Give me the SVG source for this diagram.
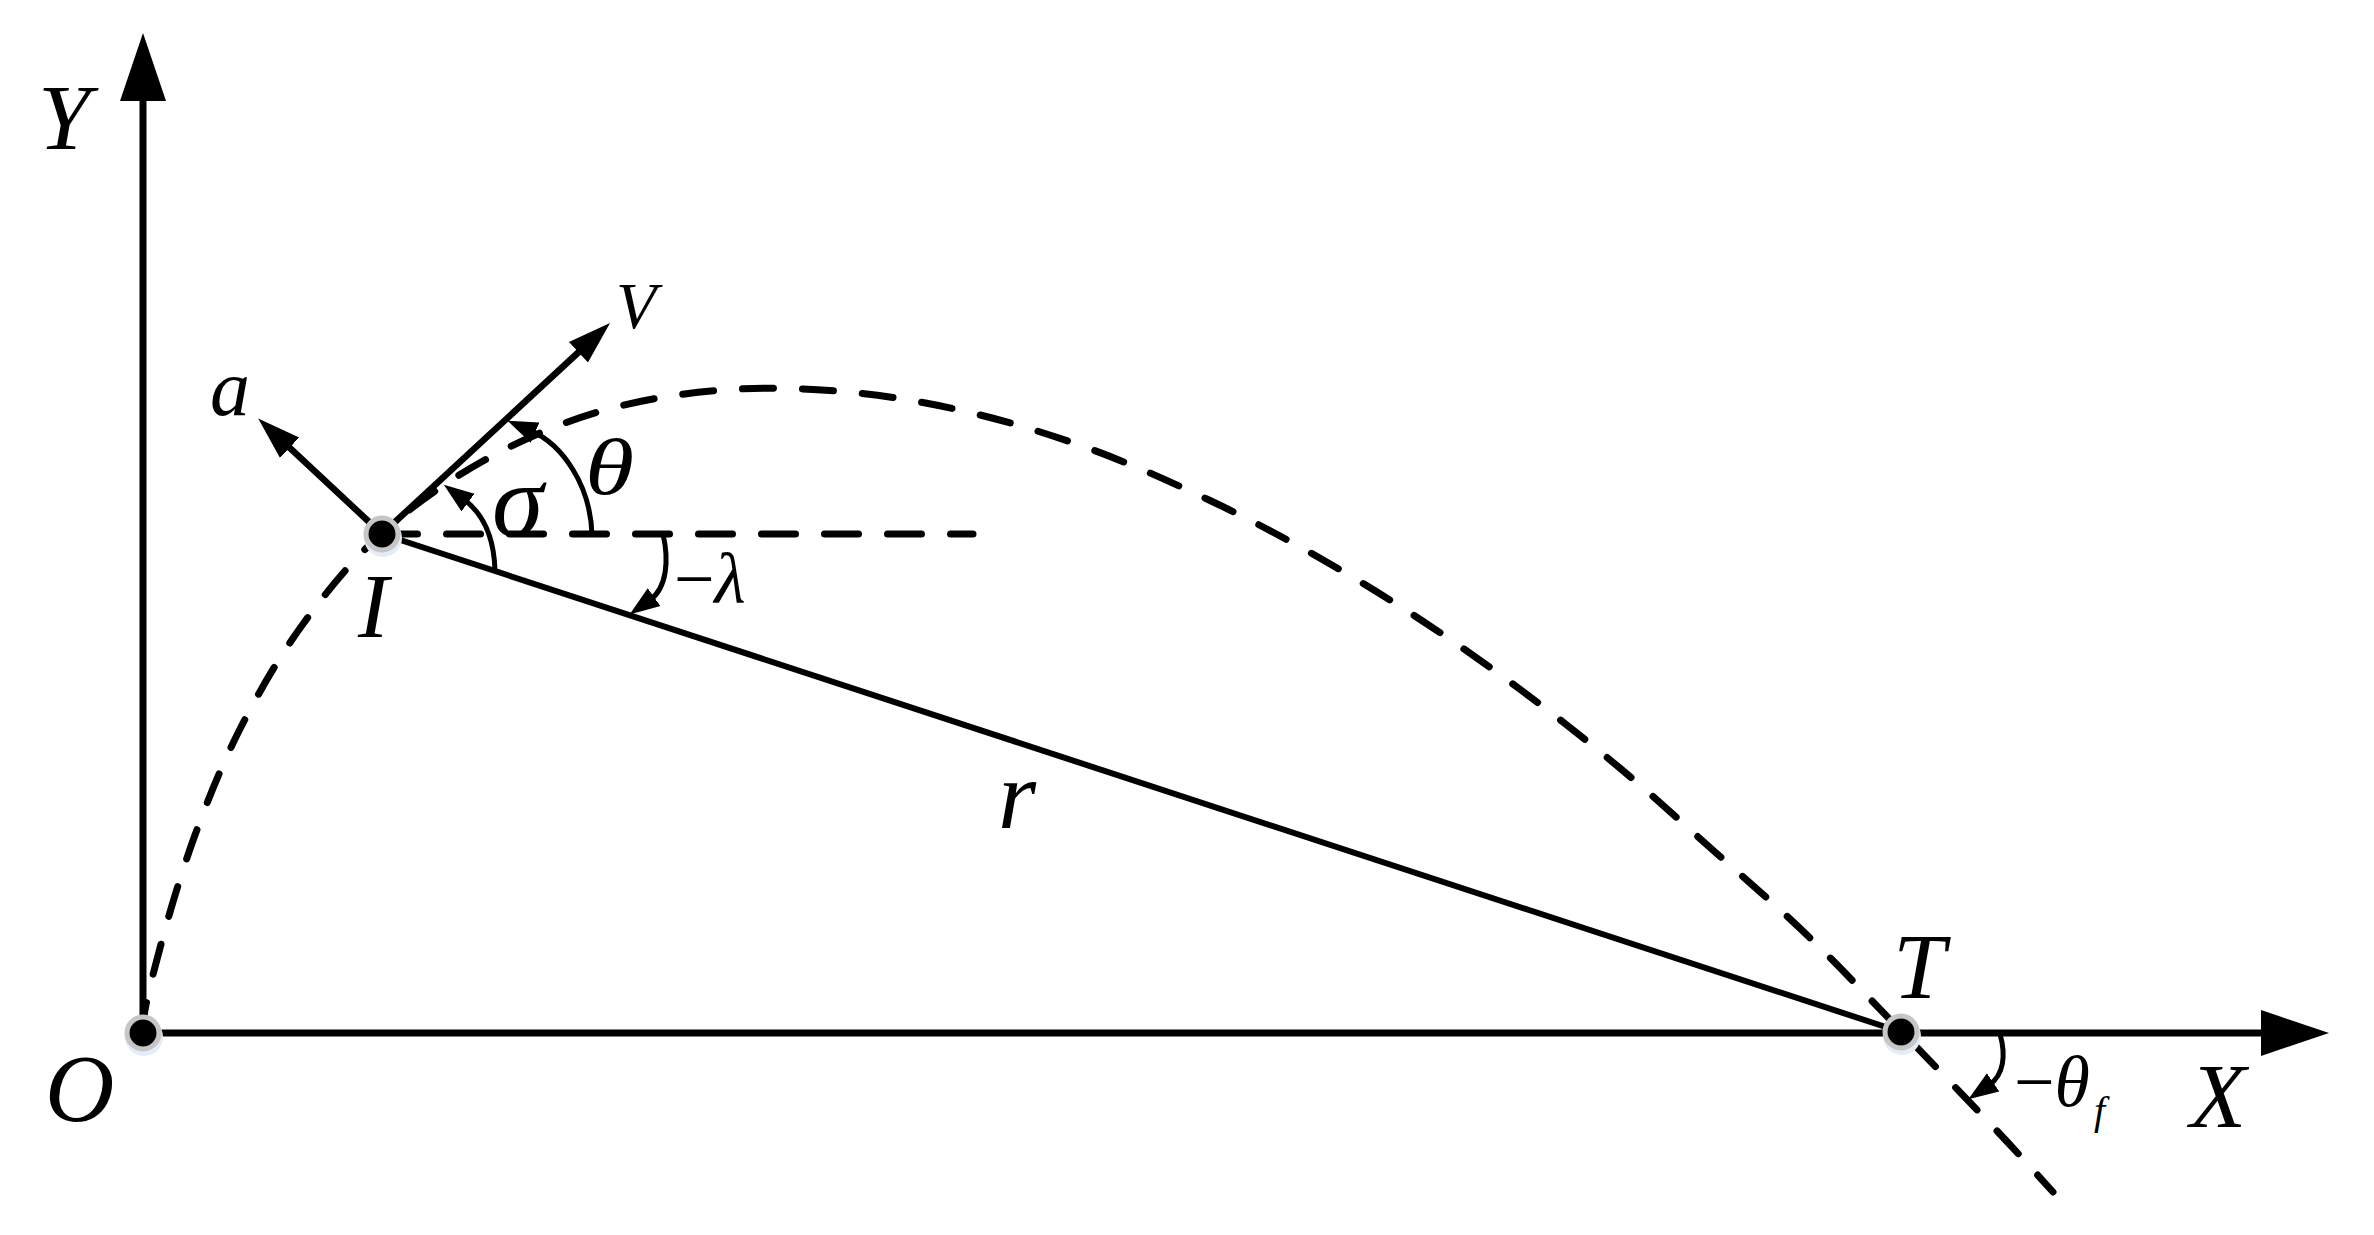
<svg xmlns="http://www.w3.org/2000/svg" width="2374" height="1235" viewBox="0 0 2374 1235">
<style>
.ax{stroke:#000;stroke-width:7;fill:none}
.sol{stroke:#000;stroke-width:6;fill:none}
.vec{stroke:#000;stroke-width:6.5;fill:none}
.arc{stroke:#000;stroke-width:5;fill:none}
.dash{stroke:#000;stroke-width:7;fill:none;stroke-linecap:round}
.lbl{font-family:"Liberation Serif","Times New Roman",serif;font-style:italic;fill:#000}
.up{font-family:"Liberation Serif","Times New Roman",serif;font-style:normal;fill:#000}
.ring{fill:none;stroke:#c6c6c6;stroke-width:5}
.glow{fill:#e3ecf7}
</style>
<defs>
<marker id="axisHead" markerUnits="userSpaceOnUse" viewBox="0 -24 70 48" markerWidth="70" markerHeight="48" refX="2" refY="0" orient="auto"><path d="M0,-23 L68,0 L0,23 z" fill="#000"/></marker>
<marker id="vecHead" markerUnits="userSpaceOnUse" viewBox="0 -15 45 30" markerWidth="45" markerHeight="30" refX="10" refY="0" orient="auto"><path d="M0,-14 L43,0 L0,14 z" fill="#000"/></marker>
<marker id="arcHead" markerUnits="userSpaceOnUse" viewBox="0 -12 32 24" markerWidth="32" markerHeight="24" refX="5" refY="0" orient="auto"><path d="M0,-11 L30,0 L0,11 z" fill="#000"/></marker>
</defs>
<rect width="2374" height="1235" fill="#fff"/>
<g id="connectors">
<line id="x-axis" class="ax" x1="143" y1="1033" x2="2263" y2="1033" marker-end="url(#axisHead)"/>
<line id="y-axis" class="ax" x1="143" y1="1033" x2="143" y2="99" marker-end="url(#axisHead)"/>
<path id="trajectory" class="dash" stroke-dasharray="31 29" d="M142,1033 C143.5,1010 151.2,981 160,948 C168.8,915 181.5,871.8 195,835 C208.5,798.2 223,762.2 241,727 C259,691.8 279.5,656.3 303,624 C326.5,591.7 352,560.2 382,533 C412,505.8 447,481.2 483,461 C519,440.8 558.2,423.8 598,412 C637.8,400.2 680.3,393.3 722,390 C763.7,386.7 806.3,388.2 848,392 C889.7,395.8 931.2,403.3 972,413 C1012.8,422.7 1053.5,435.5 1093,450 C1132.5,464.5 1171.5,482.2 1209,500 C1246.5,517.8 1282.2,536.7 1318,557 C1353.8,577.3 1389.5,599.3 1424,622 C1458.5,644.7 1492.2,668.5 1525,693 C1557.8,717.5 1589.3,742.5 1621,769 C1652.7,795.5 1683.8,824.2 1715,852 C1746.2,879.8 1777,906.2 1808,936 C1839,965.8 1869.3,998.3 1901,1031 C1932.7,1063.7 1972.7,1105.2 1998,1132 C2023.3,1158.8 2043.8,1182 2053,1192"/>
<line id="horizontal-ref" class="dash" stroke-dasharray="34 29" x1="383.5" y1="534" x2="973" y2="534"/>
<line id="los-r" class="sol" x1="382" y1="534" x2="1901" y2="1032"/>
<line id="vec-V" class="vec" x1="382" y1="534" x2="585.8" y2="345.5" marker-end="url(#vecHead)"/>
<line id="vec-a" class="vec" x1="382" y1="534" x2="282.3" y2="440.9" marker-end="url(#vecHead)"/>
<path id="arc-sigma" class="arc" d="M495,570 C494,540 485,515 464,499.6" marker-end="url(#arcHead)"/>
<path id="arc-theta" class="arc" d="M592,536 C591,485 562,444 530.5,430.6" marker-end="url(#arcHead)"/>
<path id="arc-lambda" class="arc" d="M663,534 C669,560 667,588 650,600" marker-end="url(#arcHead)"/>
<path id="arc-thetaf" class="arc" d="M2000,1034 C2006,1055 2004,1075 1989,1085.2" marker-end="url(#arcHead)"/>
</g>
<g id="node-O">
<circle class="glow" cx="144" cy="1037" r="19"/>
<circle class="ring" cx="143" cy="1033" r="16"/>
<circle cx="143" cy="1033" r="13.5" fill="#000"/>
<text class="lbl" x="45" y="1121" font-size="96">O</text>
</g>
<g id="node-I">
<circle class="glow" cx="383" cy="538" r="19"/>
<circle class="ring" cx="382" cy="534" r="16"/>
<circle cx="382" cy="534" r="13.5" fill="#000"/>
<text class="lbl" x="358" y="637" font-size="92">I</text>
</g>
<g id="node-T">
<circle class="glow" cx="1902" cy="1036" r="19"/>
<circle class="ring" cx="1901" cy="1032" r="16"/>
<circle cx="1901" cy="1032" r="13.5" fill="#000"/>
<text class="lbl" x="1893" y="998" font-size="94">T</text>
</g>
<g id="labels">
<text class="lbl" x="38" y="149" font-size="94">Y</text>
<text class="lbl" x="2190" y="1127" font-size="92">X</text>
<text class="lbl" x="210" y="415" font-size="80">a</text>
<text class="lbl" x="616" y="328" font-size="66">V</text>
<text class="lbl" x="492" y="536" font-size="104">σ</text>
<text class="lbl" x="588" y="494" font-size="80" transform="translate(-150 0) scale(1.25 1)">θ</text>
<text class="lbl" x="998" y="828" font-size="98">r</text>
<text class="lbl" x="674" y="603" font-size="72"><tspan class="up">−</tspan>λ</text>
<text class="lbl" x="2014" y="1106" font-size="72"><tspan class="up">−</tspan>θ</text>
<text class="lbl" x="2094" y="1124" font-size="40">f</text>
</g>
</svg>
